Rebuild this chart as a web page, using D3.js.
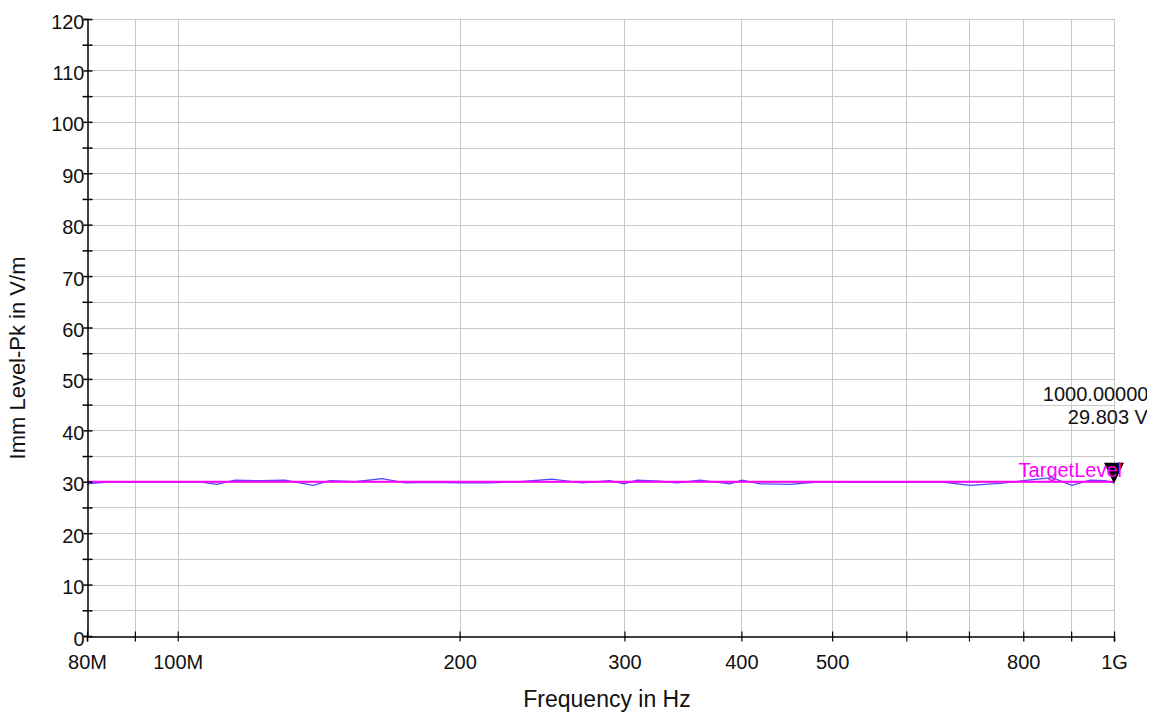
<!DOCTYPE html>
<html>
<head>
<meta charset="utf-8">
<script src="https://cdn.jsdelivr.net/npm/d3@7"></script>
<style>
  body { margin: 0; background: #fff; }
  svg { font-family: "Liberation Sans", Arial, sans-serif; }
</style>
</head>
<body>
<svg width="1160" height="713"></svg>
<script>
// Measured immunity level (blue trace), frequency in MHz
const freqMHz = [80, 84.7, 90, 95.7, 100, 105.6, 110.1, 115.1, 122.4, 130.2, 139.5, 145.4, 154.6, 165.3, 174.9,
  185.9, 200, 215.5, 232, 251, 270.3, 289.5, 299.7, 309.5, 327.4, 341.4, 361.2, 388.9, 400.6, 418.7, 450.7,
  485.2, 522.4, 562.5, 605.4, 651.8, 701.8, 755.4, 809.6, 858.7, 901.7, 942.6, 978, 1000];
const immLevel = [29.6, 30.0, 29.9, 30.0, 29.9, 30.0, 29.5, 30.3, 30.2, 30.3, 29.3, 30.2, 30.0, 30.6, 29.8,
  29.9, 29.8, 29.8, 30.0, 30.5, 29.8, 30.2, 29.6, 30.3, 30.1, 29.8, 30.3, 29.6, 30.3, 29.6, 29.5,
  30.0, 29.9, 29.9, 29.9, 30.0, 29.3, 29.7, 30.3, 30.8, 29.3, 30.3, 30.2, 29.803];

// Target level (magenta)
const targetFreq = [80, 1000];
const targetLevel = [30, 30];

// Axis ticks
const xTicks = [80, 90, 100, 200, 300, 400, 500, 600, 700, 800, 900, 1000];
const xTickLabels = ["80M", "", "100M", "200", "300", "400", "500", "", "", "800", "", "1G"];
const yTicks = d3.range(0, 121, 10);
const yMinorTicks = d3.range(5, 120, 10);
const yGridTicks = d3.range(5, 121, 5);

const svg = d3.select("svg");
const margin = { top: 19, right: 46, bottom: 77, left: 87 };
const width = 1160, height = 713;

const x = d3.scaleLog()
  .domain([80, 1000])
  .range([margin.left, width - margin.right]);

const y = d3.scaleLinear()
  .domain([0, 120])
  .range([height - margin.bottom, margin.top]);

// Gridlines
const grid = svg.append("g").attr("stroke", "#c8c8c8").attr("stroke-width", 1);
grid.selectAll(".vgrid")
  .data(xTicks.slice(1))
  .enter().append("line")
  .attr("x1", d => Math.round(x(d)) + 0.5)
  .attr("x2", d => Math.round(x(d)) + 0.5)
  .attr("y1", y(0))
  .attr("y2", y(120));
grid.selectAll(".hgrid")
  .data(yGridTicks)
  .enter().append("line")
  .attr("x1", x(80))
  .attr("x2", x(1000))
  .attr("y1", d => Math.round(y(d)) + 0.5)
  .attr("y2", d => Math.round(y(d)) + 0.5);

// Traces
const line = d3.line()
  .x(d => x(d[0]))
  .y(d => y(d[1]));

svg.append("path")
  .datum(freqMHz.map((f, i) => [f, immLevel[i]]))
  .attr("fill", "none")
  .attr("stroke", "#4a4aff")
  .attr("stroke-width", 1.3)
  .attr("d", line);

svg.append("path")
  .datum(targetFreq.map((f, i) => [f, targetLevel[i]]))
  .attr("fill", "none")
  .attr("stroke", "#ff00ff")
  .attr("stroke-width", 2)
  .attr("d", line);

// Y axis
const yAxis = svg.append("g")
  .attr("transform", `translate(${Math.round(x(80)) + 0.5},0)`)
  .call(d3.axisLeft(y).tickValues(yTicks).tickSize(4).tickPadding(4));
yAxis.select(".domain").attr("stroke", "#000").attr("stroke-width", 1.5);
yAxis.selectAll(".tick line").attr("x1", 5).attr("stroke-width", 1.5);
yAxis.selectAll(".tick text").attr("font-size", 20).attr("fill", "#111").attr("dy", "0.45em").attr("x", -3);

const yMinor = svg.append("g")
  .attr("transform", `translate(${Math.round(x(80)) + 0.5},0)`)
  .call(d3.axisLeft(y).tickValues(yMinorTicks).tickSize(5).tickFormat(""));
yMinor.select(".domain").remove();
yMinor.selectAll(".tick line").attr("x1", 5).attr("stroke-width", 1.5);

// X axis
const xAxis = svg.append("g")
  .attr("transform", `translate(0,${Math.round(y(0)) + 0.5})`)
  .call(d3.axisBottom(x).tickValues(xTicks).tickSize(5).tickPadding(13)
    .tickFormat((d, i) => xTickLabels[i]));
xAxis.select(".domain").attr("stroke", "#000").attr("stroke-width", 1.5);
xAxis.selectAll(".tick line").attr("y1", -5).attr("stroke-width", 1.2);
xAxis.selectAll(".tick text").attr("font-size", 20).attr("fill", "#111");

// Axis titles
svg.append("text")
  .attr("x", 607)
  .attr("y", 707)
  .attr("text-anchor", "middle")
  .attr("font-size", 23)
  .attr("fill", "#111")
  .text("Frequency in Hz");

svg.append("text")
  .attr("transform", "translate(25,358) rotate(-90)")
  .attr("text-anchor", "middle")
  .attr("font-size", 22)
  .attr("fill", "#111")
  .text("Imm Level-Pk in V/m");

// Marker at last point
const last = freqMHz.length - 1;
const mx = x(freqMHz[last]), my = y(immLevel[last]);
svg.append("path")
  .attr("d", `M${mx - 10},${my - 20}L${mx + 10},${my - 20}L${mx},${my + 1}Z`)
  .attr("fill", "#000");

svg.append("text")
  .attr("x", 1122)
  .attr("y", 477)
  .attr("text-anchor", "end")
  .attr("font-size", 20)
  .attr("fill", "#ff00ff")
  .text("TargetLevel");

// Marker readout, clipped at the right like the original plot area
svg.append("clipPath").attr("id", "readout-clip")
  .append("rect").attr("x", 900).attr("y", 360).attr("width", 247).attr("height", 80);

const readout = svg.append("g").attr("clip-path", "url(#readout-clip)")
  .attr("font-size", 20).attr("fill", "#111").attr("text-anchor", "middle");
readout.append("text").attr("x", 1119).attr("y", 401)
  .text(`${freqMHz[last].toFixed(5)} MHz`);
readout.append("text").attr("x", 1119).attr("y", 424)
  .text(`${immLevel[last].toFixed(3)} V/m`);
</script>
</body>
</html>
